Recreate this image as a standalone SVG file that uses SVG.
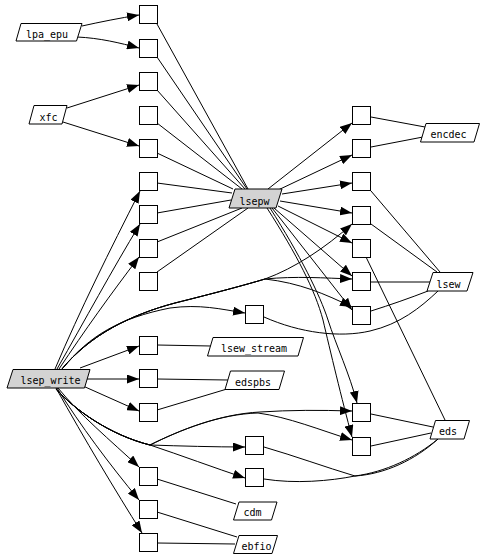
<svg xmlns="http://www.w3.org/2000/svg" width="485" height="558" viewBox="0 0 485 558">
<style>
.b{fill:#fff;stroke:#000;stroke-width:1}
.p{fill:#fff;stroke:#000;stroke-width:1}
.g{fill:#d3d3d3;stroke:#000;stroke-width:1}
.t{font-family:"DejaVu Sans Mono",monospace;font-size:10px;text-anchor:middle;fill:#000}
#edges path{fill:none;stroke:#000;stroke-width:1}
#edges .a{marker-end:url(#arr)}
</style>
<defs>
<marker id="arr" markerUnits="userSpaceOnUse" markerWidth="12" markerHeight="9" refX="12" refY="4.5" orient="auto">
<path d="M0,0 L12,4.5 L0,9 z" fill="#000"/>
</marker>
</defs>
<rect width="485" height="558" fill="#fff"/>
<g id="edges">
<path class="a" d="M82,26 C100,22 120,18 139,15"/>
<path class="a" d="M77,37 C100,38 120,43 139,48"/>
<path class="a" d="M67,108 L139,85"/>
<path class="a" d="M63,122 L139,146"/>
<path class="a" d="M55,369 C80,310 110,250 140,191"/>
<path class="a" d="M57,369 C85,320 112,270 140,224"/>
<path class="a" d="M59,369 C85,330 110,295 139,257"/>
<path class="a" d="M62,369 C90,335 130,315 175,303 C215,293 245,285 265,279 C295,268 325,248 352,224"/>
<path class="a" d="M62,369 C90,335 130,315 175,303 C215,293 245,285 265,279 C295,276 325,278 352,279"/>
<path class="a" d="M62,369 C90,335 130,315 175,303 C215,293 245,285 265,279 C300,283 325,294 352,307"/>
<path class="a" d="M62,369 C90,335 120,318 170,308 C200,304 220,309 245,313"/>
<path class="a" d="M80,368 L139,346"/>
<path class="a" d="M87,379 L139,379"/>
<path class="a" d="M83,386 L139,411"/>
<path class="a" d="M56,389 C75,410 110,435 150,445 C180,430 220,414 260,412 C290,410 320,410 352,411"/>
<path class="a" d="M56,389 C75,410 110,435 150,445 C180,430 220,414 258,413 C288,417 320,430 352,440"/>
<path class="a" d="M56,389 C75,410 110,435 150,445 C180,446 215,447 245,447"/>
<path class="a" d="M56,389 C75,410 110,435 150,445 C180,455 215,468 245,478"/>
<path class="a" d="M58,388 C80,415 110,440 139,467"/>
<path class="a" d="M57,388 C80,425 110,465 139,500"/>
<path class="a" d="M56,388 C85,440 115,490 142,533"/>
<path class="a" d="M268,189 L352,123"/>
<path class="a" d="M276,191 L352,155"/>
<path class="a" d="M282,194 L352,183"/>
<path class="a" d="M280,201 L352,213"/>
<path class="a" d="M278,206 L352,243"/>
<path class="a" d="M274,208 L352,276"/>
<path class="a" d="M272,208 L352,310"/>
<path class="a" d="M270,208 C300,255 320,295 328,320 C336,345 350,375 357,403"/>
<path class="a" d="M267,208 C297,255 315,290 323,320 C330,350 342,400 352,437"/>
<path d="M157,24 L248,189"/>
<path d="M157,57 L247,189"/>
<path d="M157,90 L245,189"/>
<path d="M157,123 L242,189"/>
<path d="M157,153 L233,189"/>
<path d="M157,183 L232,193"/>
<path d="M157,213 L231,200"/>
<path d="M157,242 L242,208"/>
<path d="M157,272 L248,208"/>
<path d="M371,117 L425,127"/>
<path d="M371,147 L423,137"/>
<path d="M371,191 L440,272"/>
<path d="M371,224 L437,272"/>
<path d="M366,257 L445,420"/>
<path d="M371,282 L430,282"/>
<path d="M371,311 C390,305 410,298 428,291"/>
<path d="M264,317 C300,333 340,338 370,331 C400,324 420,308 438,291"/>
<path d="M371,414 L433,427"/>
<path d="M371,446 L431,433"/>
<path d="M264,447 C295,456 325,467 355,476 C385,474 415,460 438,439"/>
<path d="M264,479 C295,484 330,481 355,476 C385,472 415,458 438,439"/>
<path d="M157,345 L211,346"/>
<path d="M157,379 L228,380"/>
<path d="M157,410 L227,389"/>
<path d="M157,479 L236,504"/>
<path d="M157,512 L237,537"/>
<path d="M157,543 L235,544"/>
</g>
<g id="lpa_epu"><polygon class="p" points="21,23.5 82,23.5 76.5,41 16,41"/><text class="t" x="47" y="37.5">lpa_epu</text></g>
<g id="xfc"><polygon class="p" points="34,105.5 67,105.5 62,124 29,124"/><text class="t" x="48.5" y="120.5">xfc</text></g>
<g id="lsepw"><polygon class="g" points="235,189 282,189 276,208 229,208"/><text class="t" x="254.5" y="204.5">lsepw</text></g>
<g id="encdec"><polygon class="p" points="426,123.5 479.5,123.5 474,142 420.5,142"/><text class="t" x="448.5" y="138">encdec</text></g>
<g id="lsew"><polygon class="p" points="433,272.5 473,272.5 467,291 427,291"/><text class="t" x="448.5" y="287.5">lsew</text></g>
<g id="lsep_write"><polygon class="g" points="13,369.5 90,369.5 84.5,388 7,388"/><text class="t" x="50.5" y="384">lsep_write</text></g>
<g id="lsew_stream"><polygon class="p" points="213,337.5 303.5,337.5 298,356 207.5,356"/><text class="t" x="254" y="352">lsew_stream</text></g>
<g id="edspbs"><polygon class="p" points="230.5,371 284.5,371 279,389.5 225,389.5"/><text class="t" x="253" y="385.5">edspbs</text></g>
<g id="eds"><polygon class="p" points="435.5,420.5 469.5,420.5 464,439 430,439"/><text class="t" x="448" y="435">eds</text></g>
<g id="cdm"><polygon class="p" points="239,502 277,502 271.5,520 233.5,520"/><text class="t" x="252.5" y="516">cdm</text></g>
<g id="ebfio"><polygon class="p" points="239,535.5 277.5,535.5 272,553.5 233.5,553.5"/><text class="t" x="256.5" y="549.5">ebfio</text></g>
<g id="n_l1"><rect class="b" x="139.5" y="5.5" width="18" height="18"/></g>
<g id="n_l2"><rect class="b" x="139.5" y="39.5" width="18" height="18"/></g>
<g id="n_l3"><rect class="b" x="139.5" y="72.5" width="18" height="18"/></g>
<g id="n_l4"><rect class="b" x="139.5" y="106.5" width="18" height="18"/></g>
<g id="n_l5"><rect class="b" x="139.5" y="139.5" width="18" height="18"/></g>
<g id="n_l6"><rect class="b" x="139.5" y="172.5" width="18" height="18"/></g>
<g id="n_l7"><rect class="b" x="139.5" y="205.5" width="18" height="18"/></g>
<g id="n_l8"><rect class="b" x="139.5" y="239.5" width="18" height="18"/></g>
<g id="n_l9"><rect class="b" x="139.5" y="272.5" width="18" height="18"/></g>
<g id="n_l10"><rect class="b" x="139.5" y="336.5" width="18" height="18"/></g>
<g id="n_l11"><rect class="b" x="139.5" y="369.5" width="18" height="18"/></g>
<g id="n_l12"><rect class="b" x="139.5" y="403.5" width="18" height="18"/></g>
<g id="n_l13"><rect class="b" x="139.5" y="467.5" width="18" height="18"/></g>
<g id="n_l14"><rect class="b" x="139.5" y="500.5" width="18" height="18"/></g>
<g id="n_l15"><rect class="b" x="139.5" y="533.5" width="18" height="18"/></g>
<g id="n_m1"><rect class="b" x="245.5" y="305.5" width="18" height="18"/></g>
<g id="n_m2"><rect class="b" x="245.5" y="436.5" width="18" height="18"/></g>
<g id="n_m3"><rect class="b" x="245.5" y="468.5" width="18" height="18"/></g>
<g id="n_r1"><rect class="b" x="352.5" y="106.5" width="18" height="18"/></g>
<g id="n_r2"><rect class="b" x="352.5" y="139.5" width="18" height="18"/></g>
<g id="n_r3"><rect class="b" x="352.5" y="172.5" width="18" height="18"/></g>
<g id="n_r4"><rect class="b" x="352.5" y="206.5" width="18" height="18"/></g>
<g id="n_r5"><rect class="b" x="352.5" y="239.5" width="18" height="18"/></g>
<g id="n_r6"><rect class="b" x="352.5" y="272.5" width="18" height="18"/></g>
<g id="n_r7"><rect class="b" x="352.5" y="306.5" width="18" height="18"/></g>
<g id="n_r8"><rect class="b" x="352.5" y="403.5" width="18" height="18"/></g>
<g id="n_r9"><rect class="b" x="352.5" y="437.5" width="18" height="18"/></g>
</svg>
